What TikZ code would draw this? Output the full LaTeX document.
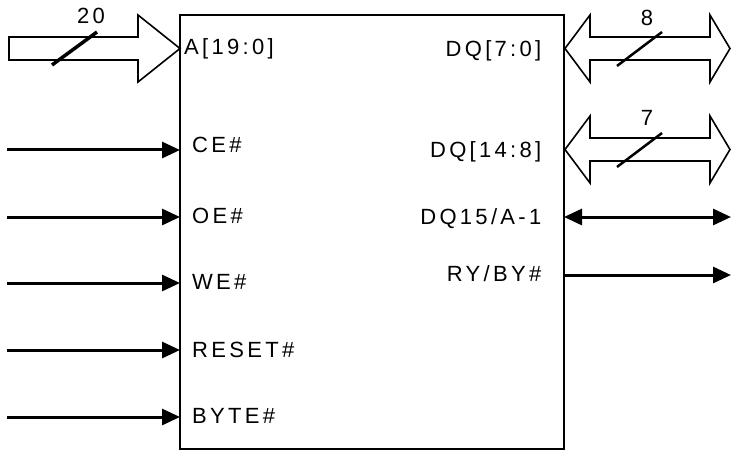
\documentclass[tikz,border=0pt]{standalone}
\usepackage{fontspec}
\setmainfont{Liberation Sans}
\newfontfamily\pinfont{Liberation Sans}[LetterSpace=15]
\usepackage{tikz}
\usetikzlibrary{arrows.meta}

\begin{document}
\begin{tikzpicture}[
    x=1pt,y=-1pt,
    chip/.style={rectangle,draw,line width=2pt,minimum width=384pt,minimum height=434pt,
                 inner sep=0pt,outer sep=0pt},
    pin/.style={font=\pinfont\fontsize{22}{24}\selectfont,inner sep=0pt},
    sig/.style={line width=3pt,-{Triangle[length=18pt,width=16pt]}},
    bisig/.style={line width=3pt,{Triangle[length=18pt,width=16pt]}-{Triangle[length=18pt,width=16pt]}},
    bus/.style={draw,line width=1.6pt,fill=white,line join=miter},
    tick/.style={line width=2.5pt}
  ]
  \useasboundingbox (0,0) rectangle (732,452);

  \node[chip] (chip) at (372,232) {};

  % address bus
  \coordinate (abus) at (180,48.5);
  \draw[bus] (abus) -- ++(-42,-33.5) -- ++(0,22) -- ++(-129,0) -- ++(0,23)
             -- ++(129,0) -- ++(0,22) -- cycle;
  \draw[tick,line width=3.5pt] (52,65) -- (97,32);
  \node[pin] (awidth) at (91,16) {20};
  \node[pin,anchor=base west] (albl) at (184,55) {A[19:0]};

  % control inputs
  \coordinate (ce) at (7,150);
  \coordinate (oe) at (7,217);
  \coordinate (we) at (7,283);
  \coordinate (rst) at (7,350);
  \coordinate (byte) at (7,417);
  \draw[sig] (ce) -- (ce -| chip.west);
  \draw[sig] (oe) -- (oe -| chip.west);
  \draw[sig] (we) -- (we -| chip.west);
  \draw[sig] (rst) -- (rst -| chip.west);
  \draw[sig] (byte) -- (byte -| chip.west);
  \node[pin,anchor=base west] (celbl) at (192,153) {CE\#};
  \node[pin,anchor=base west] (oelbl) at (192,223) {OE\#};
  \node[pin,anchor=base west] (welbl) at (192,289) {WE\#};
  \node[pin,anchor=base west] (rstlbl) at (192,357.5) {RESET\#};
  \node[pin,anchor=base west] (bytelbl) at (192,423.5) {BYTE\#};

  % data buses
  \coordinate (dqlo) at (565,48.5);
  \coordinate (dqhi) at (565,149.5);
  \draw[bus] (dqlo) -- ++(25,-33.5) -- ++(0,22) -- ++(120,0) -- ++(0,-22) -- ++(20,33.5)
             -- ++(-20,33.5) -- ++(0,-22) -- ++(-120,0) -- ++(0,22) -- cycle;
  \draw[bus] (dqhi) -- ++(25,-33.5) -- ++(0,22) -- ++(120,0) -- ++(0,-22) -- ++(20,33.5)
             -- ++(-20,33.5) -- ++(0,-22) -- ++(-120,0) -- ++(0,22) -- cycle;
  \draw[tick] (617,66) -- (662,32);
  \draw[tick] (617,167) -- (662,133);
  \node[pin] (lowidth) at (647,18) {8};
  \node[pin] (hiwidth) at (647,118) {7};
  \node[pin,anchor=base east] (dqlolbl) at (541.5,56.5) {DQ[7:0]};
  \node[pin,anchor=base east] (dqhilbl) at (541.5,157.5) {DQ[14:8]};

  % other outputs
  \coordinate (dq15) at (731,217);
  \coordinate (ry) at (731,275);
  \draw[bisig] (dq15 -| chip.east) -- (dq15);
  \draw[sig] (ry -| chip.east) -- (ry);
  \node[pin,anchor=base east] (dq15lbl) at (541.5,224.5) {DQ15/A-1};
  \node[pin,anchor=base east] (rylbl) at (541.5,281) {RY/BY\#};
\end{tikzpicture}
\end{document}
